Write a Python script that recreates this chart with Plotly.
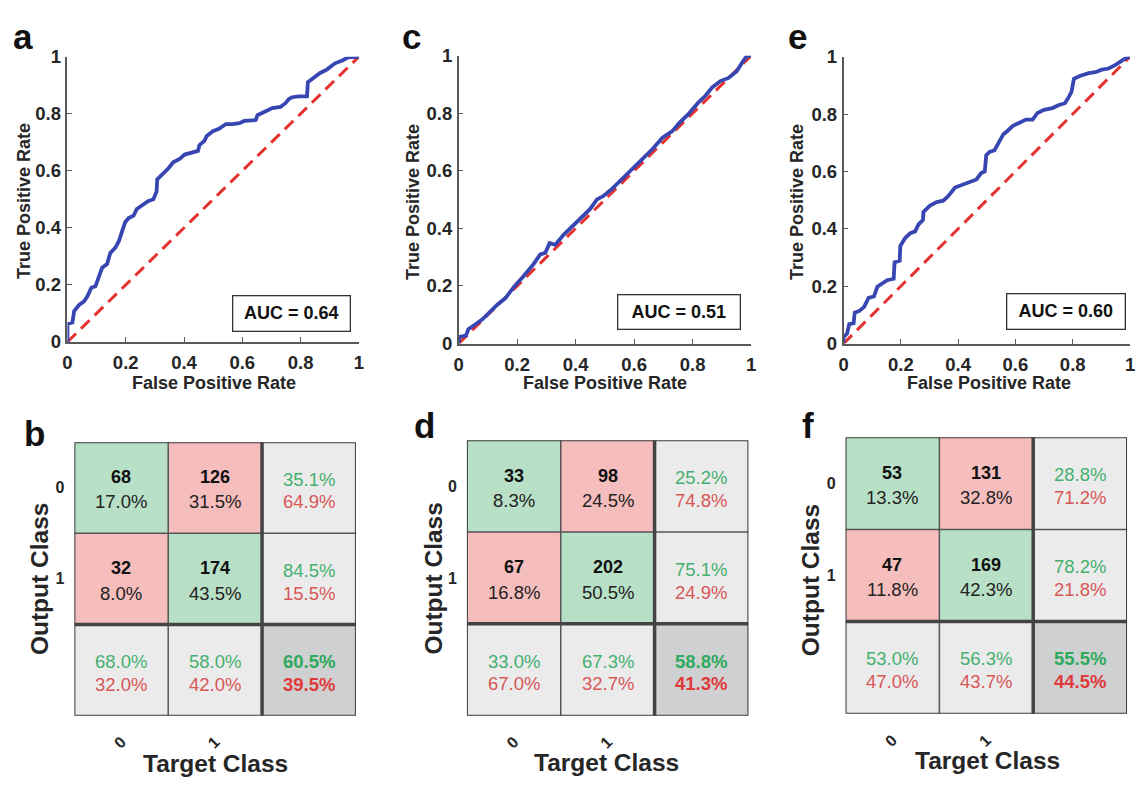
import plotly.graph_objects as go

W, H = 1137, 785
FONT = "Liberation Sans, Arial, Helvetica, sans-serif"

# ---------------- ROC data ----------------
roc_a_fpr = [0, 0, 0.017, 0.023, 0.04, 0.057, 0.068, 0.082, 0.096, 0.105, 0.119, 0.136, 0.147, 0.164,
             0.176, 0.187, 0.198, 0.21, 0.227, 0.238, 0.261, 0.278, 0.295, 0.306, 0.308, 0.323, 0.346,
             0.363, 0.385, 0.402, 0.425, 0.448, 0.453, 0.47, 0.478, 0.499, 0.52, 0.544, 0.567, 0.59,
             0.607, 0.646, 0.652, 0.675, 0.703, 0.731, 0.748, 0.76, 0.771, 0.794, 0.822, 0.825, 0.845,
             0.867, 0.89, 0.918, 0.941, 0.964, 1.0]
roc_a_tpr = [0, 0.063, 0.068, 0.108, 0.13, 0.142, 0.159, 0.19, 0.195, 0.218, 0.26, 0.273, 0.312, 0.33,
             0.352, 0.386, 0.42, 0.434, 0.443, 0.466, 0.483, 0.494, 0.5, 0.528, 0.57, 0.585, 0.608,
             0.63, 0.642, 0.657, 0.665, 0.67, 0.69, 0.705, 0.722, 0.739, 0.747, 0.764, 0.764, 0.767,
             0.775, 0.778, 0.795, 0.807, 0.82, 0.824, 0.837, 0.852, 0.858, 0.861, 0.861, 0.911, 0.926,
             0.943, 0.955, 0.977, 0.986, 0.998, 1.0]

roc_c_fpr = [0, 0.002, 0.025, 0.033, 0.059, 0.081, 0.11, 0.132, 0.16, 0.189, 0.223, 0.256, 0.279, 0.296,
             0.311, 0.33, 0.358, 0.392, 0.42, 0.449, 0.473, 0.494, 0.522, 0.562, 0.595, 0.629, 0.663,
             0.697, 0.731, 0.754, 0.788, 0.821, 0.844, 0.867, 0.895, 0.923, 0.951, 0.968, 0.985, 1.0]
roc_c_tpr = [0, 0.023, 0.028, 0.05, 0.068, 0.084, 0.113, 0.135, 0.158, 0.197, 0.236, 0.276, 0.31, 0.315,
             0.349, 0.343, 0.377, 0.411, 0.439, 0.467, 0.501, 0.512, 0.535, 0.574, 0.608, 0.642, 0.676,
             0.715, 0.738, 0.766, 0.8, 0.839, 0.861, 0.89, 0.912, 0.923, 0.946, 0.974, 0.999, 1.0]

roc_e_fpr = [0, 0, 0.012, 0.02, 0.035, 0.039, 0.054, 0.072, 0.087, 0.106, 0.118, 0.135, 0.152, 0.175,
             0.178, 0.196, 0.198, 0.215, 0.233, 0.25, 0.262, 0.277, 0.279, 0.302, 0.325, 0.348, 0.366,
             0.389, 0.418, 0.441, 0.464, 0.481, 0.493, 0.498, 0.51, 0.527, 0.544, 0.558, 0.573, 0.591,
             0.614, 0.637, 0.66, 0.677, 0.7, 0.729, 0.752, 0.773, 0.787, 0.796, 0.804, 0.827, 0.856,
             0.879, 0.902, 0.925, 0.948, 0.971, 0.988, 1.0]
roc_e_tpr = [0, 0.023, 0.034, 0.068, 0.071, 0.108, 0.113, 0.128, 0.159, 0.164, 0.198, 0.21, 0.221, 0.226,
             0.283, 0.289, 0.34, 0.368, 0.385, 0.391, 0.416, 0.43, 0.459, 0.481, 0.493, 0.498, 0.515,
             0.544, 0.555, 0.566, 0.572, 0.595, 0.6, 0.657, 0.668, 0.674, 0.702, 0.73, 0.742, 0.759,
             0.77, 0.781, 0.781, 0.804, 0.815, 0.821, 0.832, 0.838, 0.861, 0.878, 0.923, 0.934, 0.943,
             0.946, 0.955, 0.959, 0.971, 0.985, 0.997, 1.0]

chance_x = [0, 1]
chance_y = [0, 1]

auc_values = ["0.64", "0.51", "0.60"]
roc_ticks = [0, 0.2, 0.4, 0.6, 0.8, 1]
roc_ticktext = ["0", "0.2", "0.4", "0.6", "0.8", "1"]

# ---------------- Confusion matrix data ----------------
cm_b_counts = [[68, 126], [32, 174]]
cm_b_pct = [[17.0, 31.5], [8.0, 43.5]]
cm_b_row = [[35.1, 64.9], [84.5, 15.5]]
cm_b_col = [[68.0, 32.0], [58.0, 42.0]]
cm_b_all = [60.5, 39.5]

cm_d_counts = [[33, 98], [67, 202]]
cm_d_pct = [[8.3, 24.5], [16.8, 50.5]]
cm_d_row = [[25.2, 74.8], [75.1, 24.9]]
cm_d_col = [[33.0, 67.0], [67.3, 32.7]]
cm_d_all = [58.8, 41.3]

cm_f_counts = [[53, 131], [47, 169]]
cm_f_pct = [[13.3, 32.8], [11.8, 42.3]]
cm_f_row = [[28.8, 71.2], [78.2, 21.8]]
cm_f_col = [[53.0, 47.0], [56.3, 43.7]]
cm_f_all = [55.5, 44.5]

class_labels = ["0", "1"]
# cell kind: 0 correct(green) 1 wrong(red) 2 summary(grey) 3 overall(dark grey)
cell_kind = [[0, 1, 2], [1, 0, 2], [2, 2, 3]]

# ---------------- layout geometry (pixels) ----------------
roc_boxes = [(63, 357, 47, 340), (457.7, 752.7, 46, 341.7), (846, 1135, 47, 341.7)]
cm_boxes = [(70, 354, 443, 724), (466, 750, 441, 724), (848, 1132, 438, 722)]

def px(x):
    return x / W

def py(y):
    return 1 - y / H

BLUE = "#3846b2"
RED = "#e4322f"
AXC = "#5a5a5a"
TXT = "#262626"
G_TXT = "#45b06f"
R_TXT = "#d85757"
G_BOLD = "#2eaa5c"
R_BOLD = "#e03a3a"

fig = go.Figure()
layout = dict(width=W, height=H, margin=dict(l=0, r=0, t=0, b=0),
              paper_bgcolor="white", plot_bgcolor="white", showlegend=False,
              font=dict(family=FONT, color=TXT))
annotations = []
shapes = []


def paper_text(x, y, text, size, color=TXT, angle=0, bold=True):
    return dict(x=px(x), y=py(y), xref="paper", yref="paper", xanchor="center",
                yanchor="middle", showarrow=False, text=text, textangle=angle,
                font=dict(family=FONT, size=size, color=color,
                          weight="bold" if bold else "normal"))


rocs = [(roc_a_fpr, roc_a_tpr), (roc_c_fpr, roc_c_tpr), (roc_e_fpr, roc_e_tpr)]
auc_pos = [(0.770, 0.1007, 119, 37), (0.754, 0.108, 124, 36), (0.778, 0.111, 120, 37)]
fpr_title_x = [211, 605, 993]
tpr_title_x = [19, 411, 799]

for i, ((fx, ty), (x0, x1, y0, y1)) in enumerate(zip(rocs, roc_boxes)):
    n = i + 1
    xa = "x" if n == 1 else f"x{n}"
    ya = "y" if n == 1 else f"y{n}"
    fig.add_trace(go.Scatter(x=chance_x, y=chance_y, mode="lines", xaxis=xa, yaxis=ya,
                             line=dict(color=RED, width=3, dash="12px,7px"), hoverinfo="skip"))
    fig.add_trace(go.Scatter(x=fx, y=ty, mode="lines", xaxis=xa, yaxis=ya,
                             line=dict(color=BLUE, width=3.8), hoverinfo="skip"))
    common = dict(range=[0, 1], tickvals=roc_ticks, ticktext=roc_ticktext, ticks="inside",
                  ticklen=5, tickwidth=1.2, tickcolor=AXC, showline=True, linecolor=AXC,
                  linewidth=1.5, showgrid=False, zeroline=False, fixedrange=True,
                  tickfont=dict(family=FONT, size=18.5, color=TXT, weight="bold"))
    layout["xaxis" if n == 1 else f"xaxis{n}"] = dict(common, domain=[px(x0), px(x1)],
                                                       anchor=ya, ticklabelstandoff=3)
    layout["yaxis" if n == 1 else f"yaxis{n}"] = dict(common, domain=[py(y1), py(y0)],
                                                       anchor=xa, ticklabelstandoff=1)
    ax, ay, bw, bh = auc_pos[i]
    annotations.append(dict(x=ax, y=ay, xref=xa, yref=ya, xanchor="center", yanchor="middle",
                            text=f"AUC = {auc_values[i]}",
                            showarrow=False, bgcolor="white", bordercolor="#333",
                            borderwidth=1.3, borderpad=0, width=bw - 3, height=bh - 3,
                            font=dict(family=FONT, size=18, color="#111", weight="bold")))
    annotations.append(paper_text(fpr_title_x[i], 382, "False Positive Rate", 18))
    annotations.append(paper_text(tpr_title_x[i], (y0 + y1) / 2 + 2, "True Positive Rate",
                                  18, angle=-90))

cms = [(cm_b_counts, cm_b_pct, cm_b_row, cm_b_col, cm_b_all),
       (cm_d_counts, cm_d_pct, cm_d_row, cm_d_col, cm_d_all),
       (cm_f_counts, cm_f_pct, cm_f_row, cm_f_col, cm_f_all)]

colorscale = [[0, "#b8e0c7"], [0.25, "#b8e0c7"], [0.25, "#f6bdbd"], [0.5, "#f6bdbd"],
              [0.5, "#ebebeb"], [0.75, "#ebebeb"], [0.75, "#cfd0d2"], [1, "#cfd0d2"]]

target_title_pos = [(212, 773), (607, 772), (991, 770)]
output_title_pos = [(35, 584), (432, 583), (812, 585)]

for j, ((cnt, pct, rows, cols, allv), (x0, x1, y0, y1)) in enumerate(zip(cms, cm_boxes)):
    n = j + 4
    xa, ya = f"x{n}", f"y{n}"
    fig.add_trace(go.Heatmap(z=cell_kind, x=[0, 1, 2], y=[0, 1, 2], xaxis=xa, yaxis=ya,
                             colorscale=colorscale, zmin=-0.5, zmax=3.5, showscale=False,
                             hoverinfo="skip"))
    layout[f"xaxis{n}"] = dict(domain=[px(x0), px(x1)], anchor=ya, range=[-0.5, 2.5],
                               tickvals=[0, 1], ticktext=class_labels, tickangle=-45,
                               ticks="", showgrid=False, zeroline=False, showline=False,
                               fixedrange=True, ticklabelstandoff=13,
                               tickfont=dict(family=FONT, size=16, color=TXT, weight="bold"))
    layout[f"yaxis{n}"] = dict(domain=[py(y1), py(y0)], anchor=xa, range=[2.5, -0.5],
                               tickvals=[0, 1], ticktext=class_labels, ticks="",
                               showgrid=False, zeroline=False, showline=False, fixedrange=True,
                               ticklabelstandoff=9,
                               tickfont=dict(family=FONT, size=16, color=TXT, weight="bold"))
    thin = dict(color="#555555", width=1.5)
    thick = dict(color="#444444", width=3.5)
    for v, ln in [(0.5, thin), (1.5, thick)]:
        shapes.append(dict(type="line", xref=xa, yref=ya, x0=v, x1=v, y0=-0.5, y1=2.5, line=ln))
        shapes.append(dict(type="line", xref=xa, yref=ya, x0=-0.5, x1=2.5, y0=v, y1=v, line=ln))
    shapes.append(dict(type="rect", xref=xa, yref=ya, x0=-0.5, x1=2.5, y0=-0.5, y1=2.5,
                       line=dict(color="#3c3c3c", width=2)))
    top_off, bot_off = -0.115, 0.155

    def cell_text(c, y, text, size, color, bold=False):
        return dict(x=c, y=y, xref=xa, yref=ya, xanchor="center", yanchor="middle",
                    showarrow=False, text=text,
                    font=dict(family=FONT, size=size, color=color,
                              weight="bold" if bold else "normal"))

    for r in range(2):
        for c in range(2):
            annotations.append(cell_text(c, r + top_off, str(cnt[r][c]), 18, "#111", True))
            annotations.append(cell_text(c, r + bot_off, f"{pct[r][c]:.1f}%", 18.5, "#222"))
    for r in range(2):
        annotations.append(cell_text(2, r + top_off + 0.02, f"{rows[r][0]:.1f}%", 18.5, G_TXT))
        annotations.append(cell_text(2, r + bot_off, f"{rows[r][1]:.1f}%", 18.5, R_TXT))
    for c in range(2):
        annotations.append(cell_text(c, 2 + top_off + 0.02, f"{cols[c][0]:.1f}%", 18.5, G_TXT))
        annotations.append(cell_text(c, 2 + bot_off, f"{cols[c][1]:.1f}%", 18.5, R_TXT))
    annotations.append(cell_text(2, 2 + top_off + 0.02, f"{allv[0]:.1f}%", 18.5, G_BOLD, True))
    annotations.append(cell_text(2, 2 + bot_off, f"{allv[1]:.1f}%", 18.5, R_BOLD, True))

    tx, ty_ = target_title_pos[j]
    annotations.append(paper_text(tx, ty_, "Target Class", 24.5))
    ox, oy = output_title_pos[j]
    annotations.append(paper_text(ox, oy, "Output Class", 24.5, angle=-90))

# panel letters
panel_letters = ["a", "c", "e", "b", "d", "f"]
panel_pos = [(18, 26), (410, 26), (800, 26), (30, 434), (423, 426), (810, 426)]
for lab, (lx, ly) in zip(panel_letters, panel_pos):
    annotations.append(paper_text(lx, ly, lab, 35, color="#111"))

layout["annotations"] = annotations
layout["shapes"] = shapes
fig.update_layout(**layout)
fig.write_html("out.html")
